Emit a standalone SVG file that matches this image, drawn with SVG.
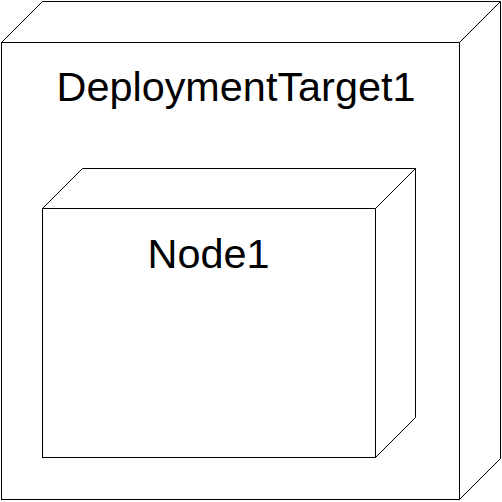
<svg xmlns="http://www.w3.org/2000/svg" width="502" height="502" viewBox="0 0 502 502">
<style>
.f{fill:#fff;stroke:#000;stroke-width:1;stroke-linejoin:miter}
.t{font-family:"Liberation Sans",Arial,sans-serif;font-size:41.4px;fill:#000;text-anchor:middle}
</style>
<rect width="502" height="502" fill="#fff"/>
<g id="DeploymentTarget1">
<path class="f" d="M1.5,42.5 L42.5,1.5 L500.5,1.5 L459.5,42.5 Z"/>
<path class="f" d="M459.5,42.5 L500.5,1.5 L500.5,458.5 L459.5,499.5 Z"/>
<rect class="f" x="1.5" y="42.5" width="458" height="457"/>
<text class="t" x="236" y="101">DeploymentTarget1</text>
</g>
<g id="Node1">
<path class="f" d="M42.5,208.5 L82.5,168.5 L415.5,168.5 L375.5,208.5 Z"/>
<path class="f" d="M375.5,208.5 L415.5,168.5 L415.5,417.5 L375.5,457.5 Z"/>
<rect class="f" x="42.5" y="208.5" width="333" height="249"/>
<text class="t" x="208.5" y="268">Node1</text>
</g>
<g id="connectors"/>
</svg>
